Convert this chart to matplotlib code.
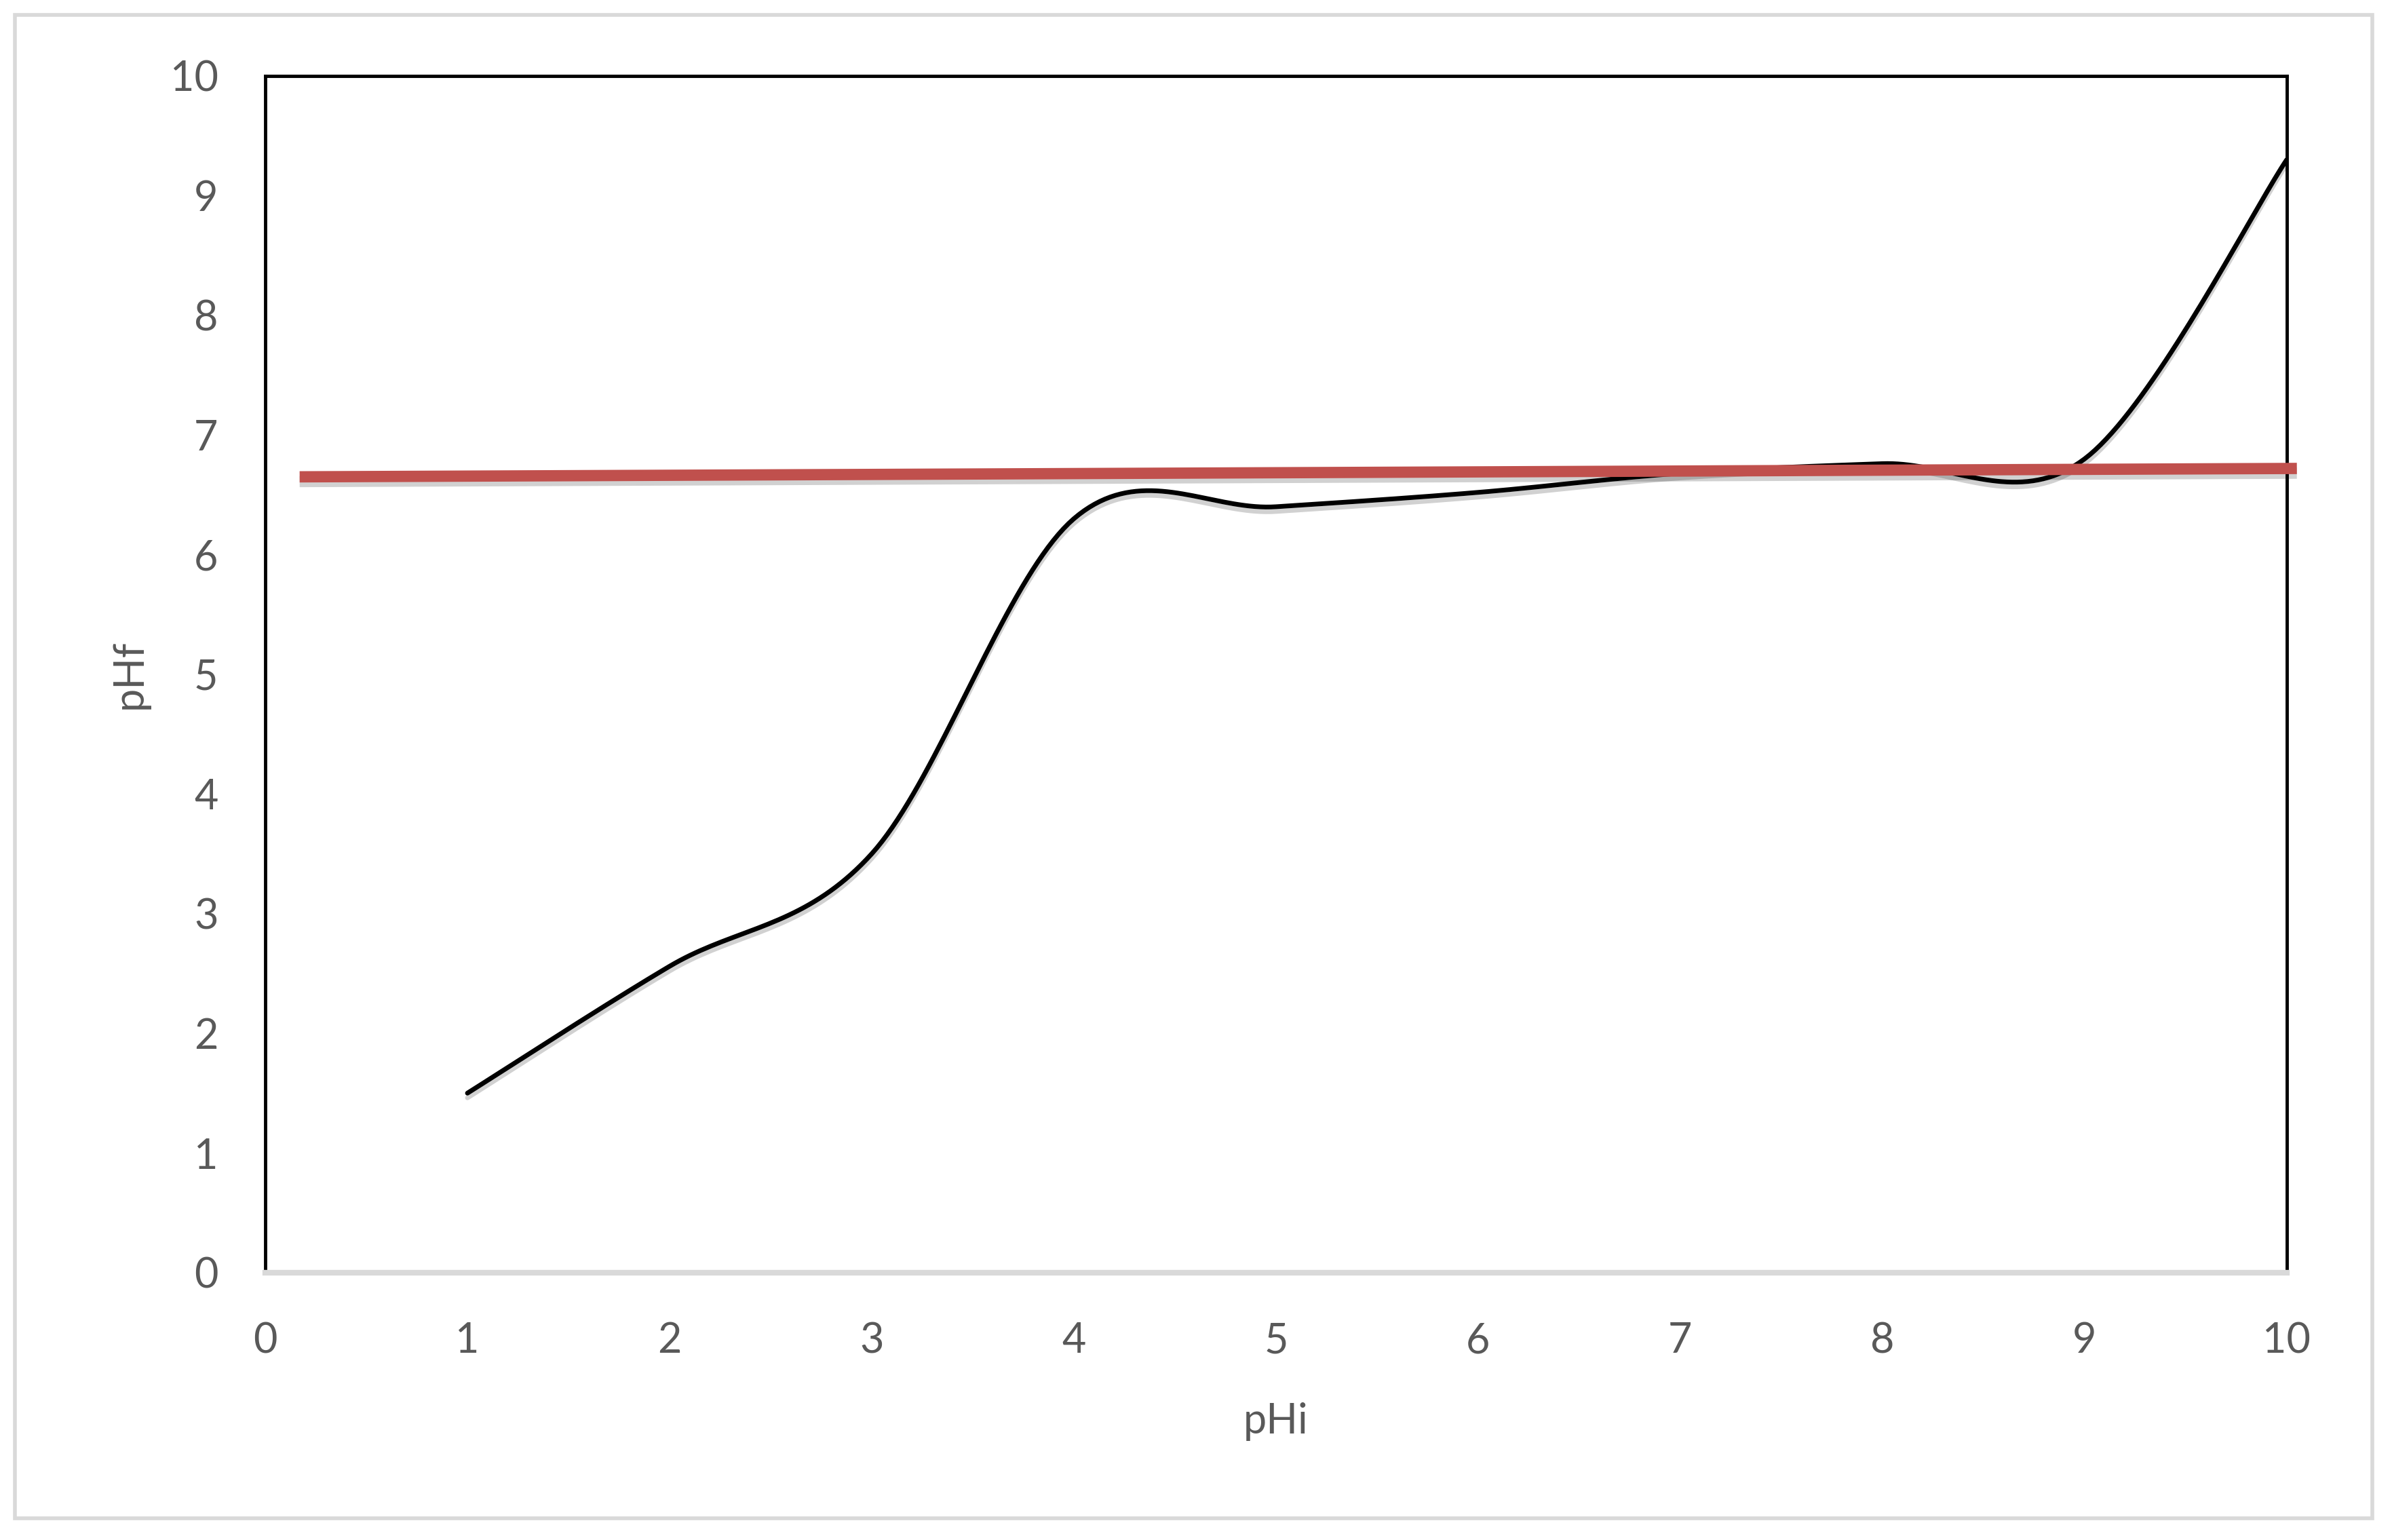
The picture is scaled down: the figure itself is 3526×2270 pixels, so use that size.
import matplotlib
matplotlib.use("Agg")
import matplotlib.pyplot as plt
import matplotlib.patheffects as pe
from matplotlib.patches import Rectangle
import numpy as np

# data
ph_initial = [1, 2, 3, 4, 5, 6, 7, 8, 9, 10]
ph_final = [1.5, 2.56, 3.5, 6.3, 6.4, 6.52, 6.68, 6.76, 6.8, 9.3]
ref_x = [0.17, 10.05]
ref_y = [6.65, 6.72]

x_ticks = list(range(0, 11))
y_ticks = list(range(0, 11))

#smooth curve like the spreadsheet "smoothed line" (catmull-rom bezier)
def smooth(xs, ys, n=40):
	pts = np.column_stack([xs, ys]).astype(float)
	p = np.vstack([pts[0], pts, pts[-1]])
	out = []
	for i in range(1, len(p) - 2):
		p0, p1, p2, p3 = p[i - 1], p[i], p[i + 1], p[i + 2]
		c1 = p1 + (p2 - p0) / 6
		c2 = p2 - (p3 - p1) / 6
		t = np.linspace(0, 1, n)[:, None]
		seg = (1 - t) ** 3 * p1 + 3 * (1 - t) ** 2 * t * c1 + 3 * (1 - t) * t ** 2 * c2 + t ** 3 * p2
		out.append(seg if i == 1 else seg[1:])
	out = np.vstack(out)
	return out[:, 0], out[:, 1]

plt.rcParams['font.family'] = ['Lato', 'DejaVu Sans']
text_col = '#595959'

fig = plt.figure(figsize=(35.26, 22.70), dpi=100)
ax = fig.add_axes([0.1109, 0.1736, 0.8451, 0.7771])

shadow = [pe.SimpleLineShadow(offset=(0, -5), shadow_color='black', alpha=0.18), pe.Normal()]

sx, sy = smooth(ph_initial, ph_final)
ax.plot(sx, sy, color='black', lw=5, solid_capstyle='round', path_effects=shadow, zorder=3)
ax.plot(ref_x, ref_y, color='#C0504D', lw=12, solid_capstyle='butt', clip_on=False, path_effects=shadow, zorder=4)

ax.set_xlim(0, 10)
ax.set_ylim(0, 10)
ax.set_xticks(x_ticks)
ax.set_yticks(y_ticks)
ax.tick_params(length=0, labelsize=44, labelcolor=text_col)
ax.tick_params(axis='x', pad=52)
ax.tick_params(axis='y', pad=50)

for side in ['left', 'top', 'right']:
	ax.spines[side].set_color('black')
	ax.spines[side].set_linewidth(3.5)
ax.spines['bottom'].set_color('#D9D9D9')
ax.spines['bottom'].set_linewidth(6)

ax.text(0.5, -0.1247, 'pHi', transform=ax.transAxes, ha='center', va='center', fontsize=44, color=text_col)
ax.text(-0.0671, 0.5, 'pHf', transform=ax.transAxes, ha='center', va='center', rotation=90, fontsize=44, color=text_col)

# chart border
fig.patches.append(Rectangle((22 / 3526, 1 - 2238 / 2270), (3497 - 22) / 3526, (2238 - 22) / 2270,
	transform=fig.transFigure, fill=False, edgecolor='#D9D9D9', lw=4))

fig.savefig('out.png', dpi=100)
